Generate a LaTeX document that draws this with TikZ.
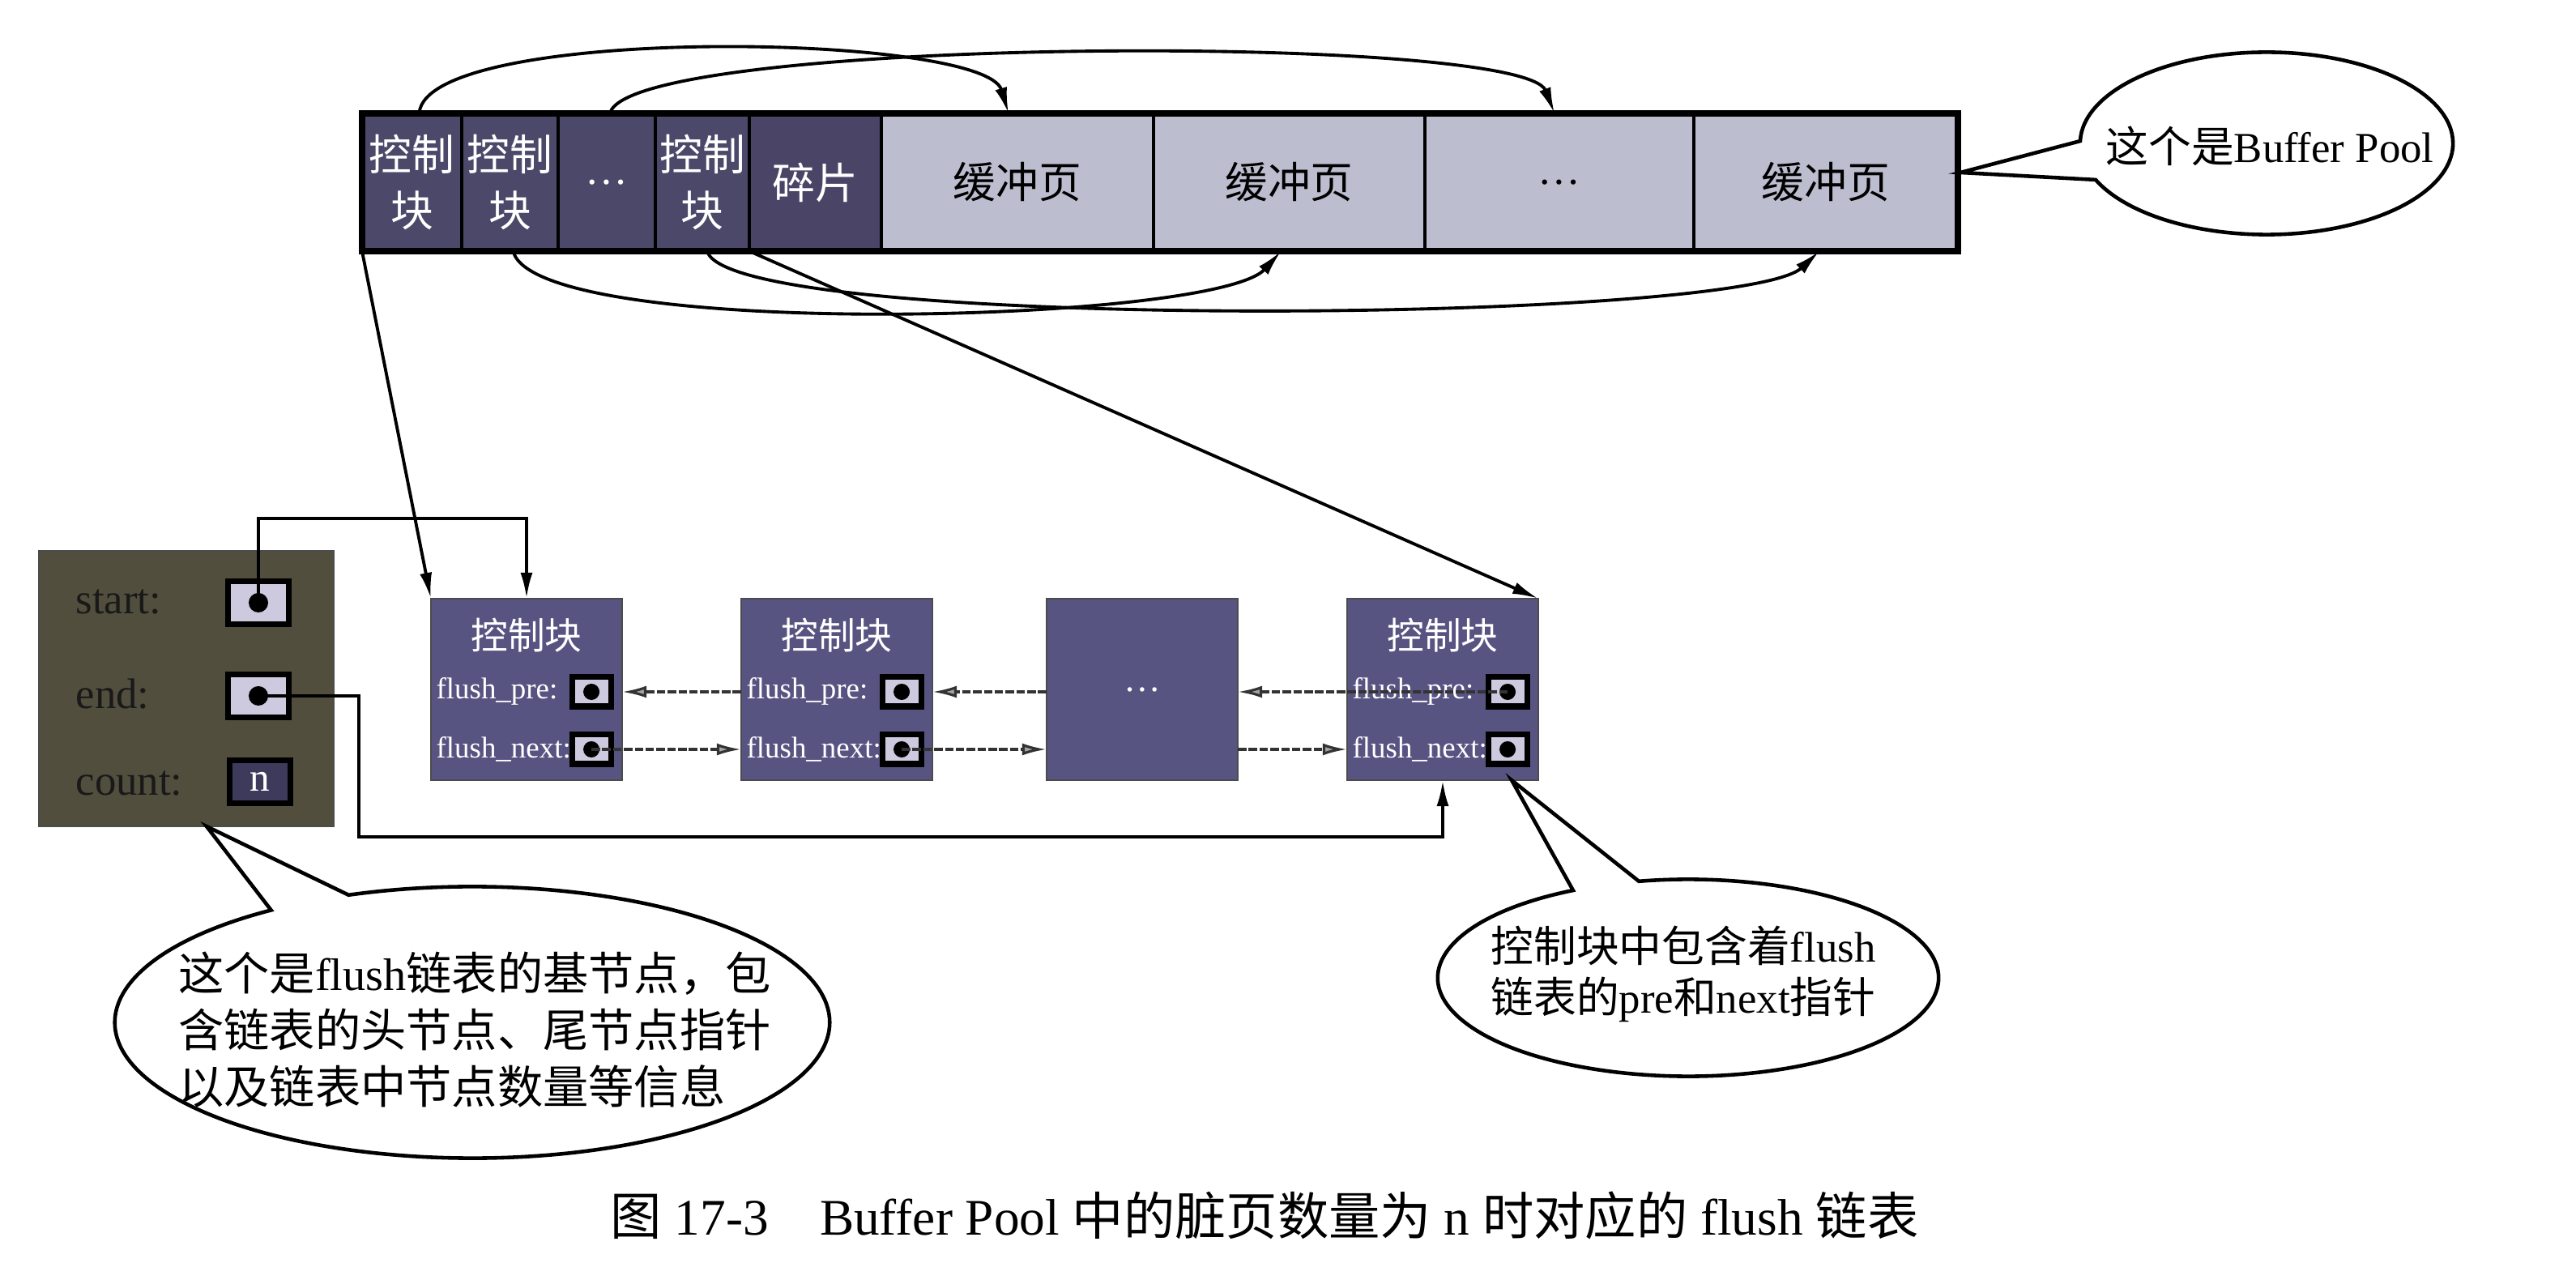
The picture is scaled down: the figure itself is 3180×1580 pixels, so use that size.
\documentclass[tikz,border=0pt]{standalone}
\usepackage{fontspec}
\setmainfont{Liberation Serif}
\newfontfamily\cjkf{Noto Sans CJK SC}
\usetikzlibrary{arrows.meta,shapes.callouts,calc}
\definecolor{ctl}{HTML}{4C4869}
\definecolor{frag}{HTML}{4A4566}
\definecolor{page}{HTML}{BDBDD0}
\definecolor{lnodec}{HTML}{585482}
\definecolor{olive}{HTML}{514E3D}
\definecolor{ptrc}{HTML}{CDC9DE}
\definecolor{cntc}{HTML}{3E3A5C}
\begin{document}
\begin{tikzpicture}[x=0.01cm,y=-0.01cm,
  cell/.style={inner sep=0,outer sep=0,minimum height=1.7cm,draw=black,line width=1.3pt},
  ctlcell/.style={cell,fill=ctl,text=white,font=\cjkf\fontsize{15}{19.5}\selectfont,align=center},
  pagecell/.style={cell,fill=page,text=black,font=\cjkf\fontsize{15}{18}\selectfont},
  lnodebox/.style={fill=lnodec,draw=black!70,line width=0.5pt,minimum width=2.36cm,minimum height=2.24cm,inner sep=0,outer sep=0},
  ttl/.style={text=white,font=\cjkf\fontsize{13}{15}\selectfont,inner sep=0},
  flbl/.style={text=white,font=\fontsize{10.5}{12}\selectfont,inner sep=0,anchor=west},
  pbox/.style={fill=ptrc,draw=black,line width=2pt,minimum width=0.48cm,minimum height=0.36cm,inner sep=0,outer sep=0},
  bbox/.style={draw=black,line width=2pt,minimum width=0.74cm,minimum height=0.53cm,inner sep=0,outer sep=0},
  blbl/.style={text=black!90,font=\fontsize{15}{17}\selectfont,inner sep=0,anchor=west},
  conn/.style={line width=1.1pt,-{Latex[length=0.32cm,width=0.15cm]}},
  plink/.style={line width=0.9pt,draw=black!80,dash pattern=on 3pt off 0.8pt,-{Latex[length=0.3cm,width=0.15cm,fill=gray!70]}},
  bubble/.style={ellipse callout,draw=black,fill=white,line width=1.3pt,inner sep=0},
]
\useasboundingbox (0,0) rectangle (3180,1580);

% ---------- Buffer Pool bar ----------
\node[ctlcell,minimum width=1.23cm] (c1) at (508.5,225) {控制\\块};
\node[ctlcell,minimum width=1.19cm] (c2) at (629.5,225) {控制\\块};
\node[ctlcell,minimum width=1.20cm,font=\fontsize{15}{18}\selectfont] (c3) at (749,225) {…};
\node[ctlcell,minimum width=1.16cm] (c4) at (867,225) {控制\\块};
\node[ctlcell,fill=frag,minimum width=1.63cm] (c5) at (1006.5,225) {碎片};
\node[pagecell,minimum width=3.36cm] (c6) at (1256,225) {缓冲页};
\node[pagecell,minimum width=3.35cm] (c7) at (1591.5,225) {缓冲页};
\node[pagecell,minimum width=3.32cm,font=\fontsize{15}{18}\selectfont] (c8) at (1925,225) {…};
\node[pagecell,minimum width=3.26cm] (c9) at (2254,225) {缓冲页};
\draw[line width=2.4pt] (c1.north west) rectangle (c9.south east);

% curves control block -> buffer page
\draw[conn] ($(c1.north)+(9,0)$) .. controls (525,30) and (1215,40) .. ($(c6.north)+(-11,0)$);
\draw[conn] ($(c3.north)+(4,0)$) .. controls (775,45) and (1880,40) .. ($(c8.north)+(-6,0)$);
\draw[conn] ($(c2.south)+(4,0)$) .. controls (660,420) and (1500,400) .. ($(c7.south)+(-10,0)$);
\draw[conn] ($(c4.south)+(6,0)$) .. controls (900,410) and (2150,400) .. ($(c9.south)+(-8,0)$);

% ---------- flush list nodes ----------
\foreach \i/\cx in {1/650,2/1033,4/1781}{
  \node[lnodebox] (ln\i) at (\cx,851) {};
  \node[ttl] (t\i) at (\cx,784) {控制块};
  \node[flbl] (pl\i) at ($(ln\i.west)+(6,2)$) {flush\_pre:};
  \node[flbl] (nl\i) at ($(ln\i.west)+(6,74)$) {flush\_next:};
  \node[pbox] (p\i) at ($(ln\i.east)+(-38,3)$) {};
  \node[pbox] (n\i) at ($(ln\i.east)+(-38,74)$) {};
  \fill (p\i.center) circle (0.1cm);
  \fill (n\i.center) circle (0.1cm);
}
\node[lnodebox] (ln3) at (1410,851) {};
\node[text=white,font=\fontsize{13}{15}\selectfont] (d3) at (ln3.center) {…};

% pre links (leftwards)
\draw[plink] (ln2.west |- p2.center) -- (ln1.east |- p1.center);
\draw[plink] (ln3.west |- p2.center) -- (ln2.east |- p2.center);
\draw[plink] (p4.center) -- (ln3.east |- p4.center);
% next links (rightwards)
\draw[plink] (n1.center) -- (ln2.west |- n1.center);
\draw[plink] (n2.center) -- (ln3.west |- n2.center);
\draw[plink] (ln3.east |- n4.center) -- (ln4.west |- n4.center);

% ---------- base node ----------
\node[fill=olive,draw=black!70,line width=0.5pt,minimum width=3.64cm,minimum height=3.4cm,inner sep=0,outer sep=0] (base) at (230,850) {};
\node[blbl] (ls) at (93,743) {start:};
\node[blbl] (le) at (93,857) {end:};
\node[blbl] (lc) at (93,967) {count:};
\node[bbox,fill=ptrc] (sb) at (319,744) {};
\node[bbox,fill=ptrc] (eb) at (319,859) {};
\node[bbox,fill=cntc,text=white,font=\fontsize{14}{16}\selectfont] (cb) at (321,965) {n};
\fill (sb.center) circle (0.12cm);
\fill (eb.center) circle (0.12cm);

\coordinate (sbtop) at (319,640);
\coordinate (ebbot) at (443,1033);
\draw[conn] (sb.center) -- (sb.center |- sbtop) -| (ln1.north);
\draw[conn] (eb.center) -- (eb.center -| ebbot) -- (ebbot) -| (ln4.south);

% bar -> list
\draw[conn] (c1.south west) -- (ln1.north west);
\draw[conn] (c4.south east) -- (ln4.north east);

% ---------- callouts ----------
\node[bubble,minimum width=4.6cm,minimum height=2.25cm,callout absolute pointer={($(c9.east)+(3,-12)$)},callout pointer arc=25] (bp) at (2798,177) {};
\node[font=\fontsize{15}{17}\selectfont,inner sep=0] (bpt) at (2802,180) {{\cjkf 这个是}Buffer Pool};

\node[bubble,minimum width=8.82cm,minimum height=3.35cm,callout absolute pointer={($(base.south)+(25,0)$)},callout pointer arc=14] (bl) at (583,1262) {};
\node[font=\cjkf\fontsize{16}{20}\selectfont,align=left,inner sep=0] (blt) at (586,1271) {这个是{\rmfamily flush}链表的基节点，包\\含链表的头节点、尾节点指针\\以及链表中节点数量等信息};

\node[bubble,minimum width=6.18cm,minimum height=2.43cm,callout absolute pointer={($(ln4.south east)+(-33,0)$)},callout pointer arc=16] (br) at (2084,1207) {};
\node[font=\cjkf\fontsize{15}{18}\selectfont,align=left,inner sep=0] (brt) at (2078,1202) {控制块中包含着{\rmfamily flush}\\链表的{\rmfamily pre}和{\rmfamily next}指针};

% ---------- caption ----------
\node[font=\fontsize{18}{22}\selectfont,inner sep=0] (cap) at (1561,1500) {{\cjkf 图} 17-3\quad Buffer Pool {\cjkf 中的脏页数量为} n {\cjkf 时对应的} flush {\cjkf 链表}};
\end{tikzpicture}
\end{document}
